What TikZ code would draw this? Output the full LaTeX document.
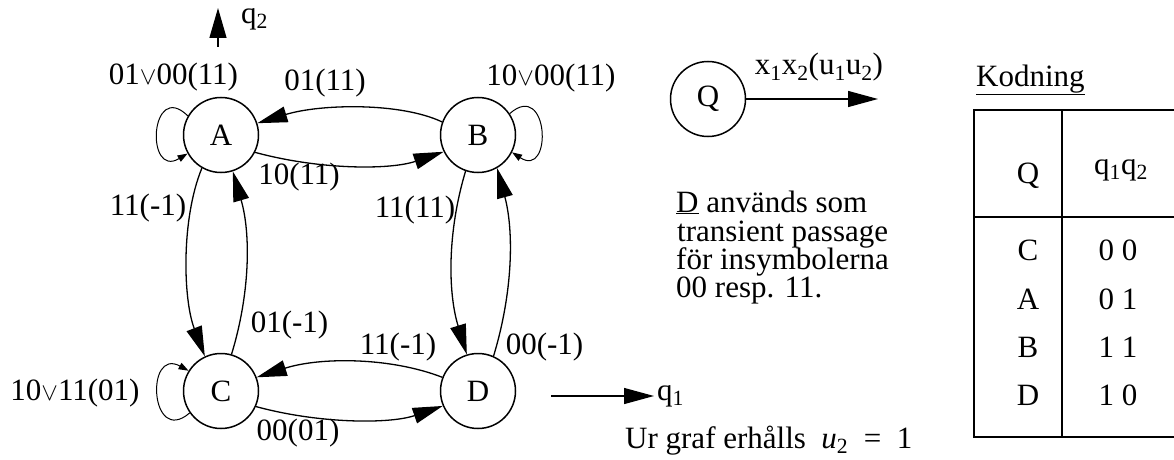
\documentclass[tikz,border=0pt]{standalone}
\usepackage{fontspec}
\setmainfont{Liberation Serif}
\usetikzlibrary{arrows.meta}
\newcommand{\orv}{{\fontsize{24}{24}\selectfont${\vee}$}}
\begin{document}
\begin{tikzpicture}[x=1pt,y=1pt,
  every node/.style={font=\fontsize{31}{28.5}\selectfont},
  state/.style={draw,circle,line width=1.5pt,minimum size=75pt,inner sep=0pt},
  edge/.style={line width=1.3pt,-{Triangle[length=30pt,width=16pt]}},
  loopedge/.style={line width=1pt,-{Triangle[length=10pt,width=7pt]}},
  lbl/.style={inner sep=0pt},
  tline/.style={line width=1.3pt}]
\useasboundingbox (0,0) rectangle (1174,459);
% states
\node[state] (A) at (221,324) {A};
\node[state] (B) at (478,324) {B};
\node[state] (C) at (221,68) {C};
\node[state] (D) at (478,68) {D};
% A <-> B
\draw[edge] (A.-27) .. controls (320,289) and (390,289) .. (B.206);
\draw[edge] (B.160) .. controls (400,357) and (320,355) .. (A.18);
% A <-> C
\draw[edge] (A.-120) .. controls (181,240) and (183,160) .. (C.115);
\draw[edge] (C.74) .. controls (250,165) and (251,225) .. (A.-72);
% B <-> D
\draw[edge] (B.-109) .. controls (447,226) and (448,166) .. (D.107);
\draw[edge] (D.66) .. controls (513,167) and (514,228) .. (B.-60);
% C <-> D
\draw[edge] (D.159) .. controls (390,102) and (320,102) .. (C.21);
\draw[edge] (C.-24) .. controls (320,35) and (390,35) .. (D.203);
% self loops
\draw[loopedge] (A.150) .. controls (150,380) and (145,280) .. (A.-151);
\draw[loopedge] (B.34) .. controls (549,380) and (553,280) .. (B.-27);
\draw[loopedge] (C.-145) .. controls (150,12) and (145,112) .. (C.148);
% edge labels
\node[lbl] (lAA) at (173.5,382) {01\orv00(11)};
\node[lbl] (lBA) at (325,376) {01(11)};
\node[lbl] (lBB) at (551,381) {10\orv00(11)};
\node[lbl] (lAB) at (299,282) {10(11)};
\node[lbl] (lAC) at (148,251) {11(-1)};
\node[lbl] (lBD) at (415,249) {11(11)};
\node[lbl] (lCA) at (289.5,134) {01(-1)};
\node[lbl] (lDC) at (398,112) {11(-1)};
\node[lbl] (lDB) at (544.5,112) {00(-1)};
\node[lbl] (lCC) at (75,66) {10\orv11(01)};
\node[lbl] (lCD) at (298,26) {00(01)};
% outputs q2, q1
\coordinate (q2s) at (218,412);
\coordinate (q2e) at (218,451);
\draw[line width=1.3pt,-{Triangle[length=30pt,width=17pt]}] (q2s) -- (q2e);
\node[lbl,anchor=west] (q2) at (241,440) {q\textsubscript{2}};
\coordinate (q1s) at (551,63);
\coordinate (q1e) at (654,63);
\draw[line width=1.3pt,-{Triangle[length=30pt,width=16pt]}] (q1s) -- (q1e);
\node[lbl,anchor=west] (q1) at (657,63) {q\textsubscript{1}};
% legend
\node[state] (Q) at (708,360) {Q};
\coordinate (Qe) at (878,360);
\draw[edge] (Q.east) -- (Qe);
\node[lbl] (Ql) at (819,392) {x\textsubscript{1}x\textsubscript{2}(u\textsubscript{1}u\textsubscript{2})};
% text block
\node[lbl,anchor=base west] (t1) at (676,247) {\underline{D} används som};
\node[lbl,anchor=base west] (t2) at (677,218) {transient passage};
\node[lbl,anchor=base west] (t3) at (676,190) {för insymbolerna};
\node[lbl,anchor=base west] (t4) at (676,162) {00 resp. 11.};
\node[lbl,anchor=base west] (t5) at (625,11) {Ur graf erhålls\ \ \textit{u}\textsubscript{2}\ \ =\ \ 1};
% Kodning table
\node[lbl,anchor=base west] (kod) at (976,373) {\underline{Kodning}};
\draw[tline] (1174,349) -- (974,349) -- (974,22) -- (1174,22);
\draw[tline] (1062,349) -- (1062,22);
\draw[tline] (974,242) -- (1174,242);
\node[lbl,anchor=base] (hQ) at (1028,276) {Q};
\node[lbl,anchor=base] (hq) at (1121,285) {q\textsubscript{1}q\textsubscript{2}};
\node[lbl,anchor=base] (rC) at (1028,199) {C};
\node[lbl,anchor=base] (rA) at (1028,150) {A};
\node[lbl,anchor=base] (rB) at (1028,102) {B};
\node[lbl,anchor=base] (rD) at (1028,54) {D};
\node[lbl,anchor=base] (vC) at (1118,199) {0 0};
\node[lbl,anchor=base] (vA) at (1118,150) {0 1};
\node[lbl,anchor=base] (vB) at (1118,102) {1 1};
\node[lbl,anchor=base] (vD) at (1118,54) {1 0};
\end{tikzpicture}
\end{document}
